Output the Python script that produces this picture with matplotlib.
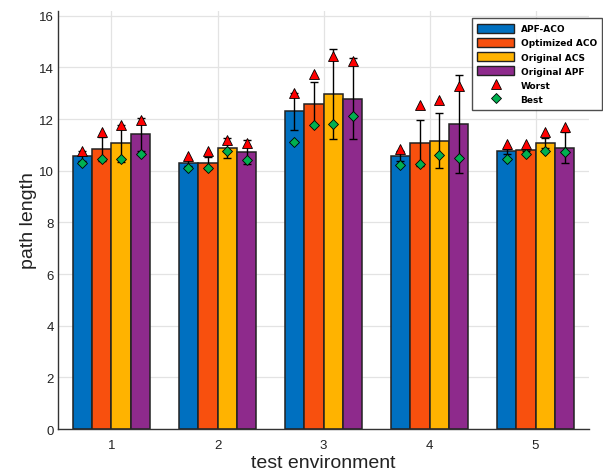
import matplotlib
matplotlib.use("Agg")
import matplotlib.pyplot as plt
from matplotlib.patches import Patch
from matplotlib.lines import Line2D
import numpy as np

plt.rcParams['font.family'] = ['Liberation Sans', 'DejaVu Sans']

envs = [1, 2, 3, 4, 5]
methods = ["APF-ACO", "Optimized ACO", "Original ACS", "Original APF"]
colors = ["#0070C0", "#F8500E", "#FFB300", "#8E2A8C"]

# mean path length per method and environment
mean_apfaco = [10.56, 10.30, 12.30, 10.56, 10.75]
mean_optaco = [10.84, 10.30, 12.59, 11.06, 10.80]
mean_acs = [11.06, 10.88, 12.97, 11.16, 11.07]
mean_apf = [11.41, 10.72, 12.79, 11.82, 10.90]

std_apfaco = [0.20, 0.10, 0.72, 0.20, 0.10]
std_optaco = [0.45, 0.25, 0.83, 0.89, 0.05]
std_acs = [0.71, 0.39, 1.74, 1.07, 0.20]
std_apf = [0.63, 0.47, 1.56, 1.90, 0.60]

worst_apfaco = [10.78, 10.56, 13.03, 10.84, 11.02]
worst_optaco = [11.52, 10.75, 13.76, 12.54, 11.03]
worst_acs = [11.77, 11.19, 14.45, 12.74, 11.49]
worst_apf = [11.97, 11.07, 14.27, 13.29, 11.68]

best_apfaco = [10.30, 10.10, 11.10, 10.23, 10.45]
best_optaco = [10.45, 10.10, 11.77, 10.27, 10.66]
best_acs = [10.45, 10.77, 11.81, 10.63, 10.77]
best_apf = [10.65, 10.40, 12.12, 10.50, 10.74]

means = [mean_apfaco, mean_optaco, mean_acs, mean_apf]
stds = [std_apfaco, std_optaco, std_acs, std_apf]
worsts = [worst_apfaco, worst_optaco, worst_acs, worst_apf]
bests = [best_apfaco, best_optaco, best_acs, best_apf]

fig = plt.figure(figsize=(6.03, 4.77), dpi=100)
ax = fig.add_axes([0.097, 0.0985, 0.879, 0.877])

x = np.array(envs, dtype=float)
w = 0.1825
for i in range(4):
    xi = x + (i - 1.5) * w
    ax.bar(xi, means[i], w, color=colors[i], edgecolor='#222222', linewidth=1.1, zorder=2)
    ax.errorbar(xi, means[i], yerr=stds[i], fmt='none', ecolor='black',
                elinewidth=1.0, capsize=3, capthick=1.0, zorder=3)
    ax.plot(xi, worsts[i], '^', color='#FF0000', mec='black', mew=0.6, ms=7, zorder=4)
    ax.plot(xi, bests[i], 'D', color='#00B050', mec='black', mew=0.6, ms=5, zorder=4)

ax.set_xlim(0.5, 5.5)
ax.set_ylim(0, 16.2)
ax.set_xticks(envs)
ax.set_yticks(np.arange(0, 17, 2))
ax.grid(True, color='#e3e3e3', linewidth=0.9, zorder=0)
ax.set_axisbelow(True)
for s in ['top', 'right']:
    ax.spines[s].set_visible(False)
for s in ['left', 'bottom']:
    ax.spines[s].set_color('#333333')
    ax.spines[s].set_linewidth(1.0)
ax.tick_params(axis='y', length=0, labelsize=9.5, pad=3.5, colors='#222222')
ax.tick_params(axis='x', length=0, labelsize=9.5, pad=7, colors='#222222')

ax.set_xlabel("test environment", fontsize=14, color='#222222', labelpad=2)
ax.set_ylabel("path length", fontsize=14, color='#222222', labelpad=1)

handles = [Patch(facecolor=c, edgecolor='#222222', linewidth=1.0) for c in colors]
handles.append(Line2D([], [], ls='none', marker='^', color='#FF0000', mec='black', mew=0.6, ms=7))
handles.append(Line2D([], [], ls='none', marker='D', color='#00B050', mec='black', mew=0.6, ms=5))
labels = methods + ["Worst", "Best"]
leg = fig.legend(handles, labels, loc='upper left', bbox_to_anchor=(467.3 / 603, 1 - 14.7 / 477),
                 prop={'family': 'DejaVu Sans', 'weight': 'bold', 'size': 6.5},
                 handlelength=4.1, handleheight=1.2, handletextpad=0.7, labelspacing=0.5,
                 borderpad=0.6, frameon=True, fancybox=False, edgecolor='#222222')
leg.get_frame().set_linewidth(1.0)

fig.savefig("out.png", dpi=100)
